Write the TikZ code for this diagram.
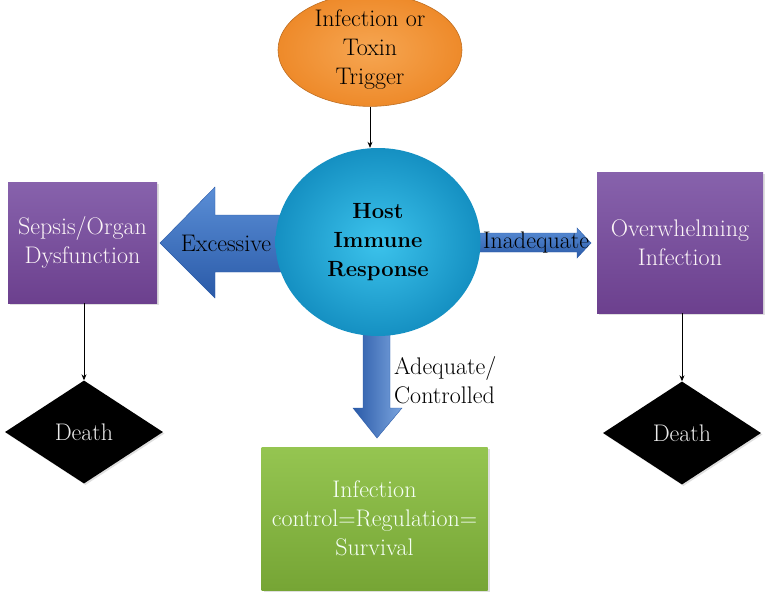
\documentclass[tikz,border=0pt]{standalone}
\usetikzlibrary{shapes.geometric,arrows.meta,shadows}

\definecolor{trigOrange}{HTML}{EE8A2A}
\definecolor{trigOrangeL}{HTML}{F6A652}
\definecolor{hostCyan}{HTML}{1AA9DB}
\definecolor{hostCyanL}{HTML}{3CC3EC}
\definecolor{hostCyanD}{HTML}{1590C2}
\definecolor{boxPurple}{HTML}{7A4E9E}
\definecolor{boxPurpleL}{HTML}{8762AC}
\definecolor{boxPurpleD}{HTML}{6C408E}
\definecolor{okGreen}{HTML}{86B943}
\definecolor{okGreenL}{HTML}{95C551}
\definecolor{okGreenD}{HTML}{76A535}
\definecolor{flowBlue}{HTML}{3C72C4}
\definecolor{flowBlueL}{HTML}{5A8ED6}
\definecolor{flowBlueD}{HTML}{2A5AA8}

\tikzset{
  txt/.style={font=\rmfamily\fontsize{24}{29}\selectfont, align=center},
  trigger/.style={ellipse, txt, minimum width=184pt, minimum height=96pt,
    inner sep=0pt, draw=trigOrange!80!black, line width=0.6pt,
    inner color=trigOrangeL, outer color=trigOrange},
  host/.style={ellipse, txt, font=\rmfamily\fontsize{22}{29}\selectfont\bfseries,
    minimum width=205pt, minimum height=188pt, inner sep=0pt,
    inner color=hostCyanL, outer color=hostCyanD},
  outcome/.style={rectangle, txt, text=white!96!purple, inner sep=0pt,
    top color=boxPurpleL, bottom color=boxPurpleD,
    drop shadow={shadow xshift=2pt, shadow yshift=-2pt, opacity=0.25}},
  survive/.style={rectangle, txt, text=white!96!green, inner sep=0pt,
    top color=okGreenL, bottom color=okGreenD,
    drop shadow={shadow xshift=2pt, shadow yshift=-2pt, opacity=0.25}},
  fatal/.style={diamond, txt, text=white!92!black, inner sep=0pt, aspect=1.55,
    fill=black, minimum width=158pt, minimum height=103pt,
    drop shadow={shadow xshift=1.5pt, shadow yshift=-1.5pt, opacity=0.25}},
  link/.style={draw=black, line width=0.7pt, -{Stealth[length=6pt,width=5pt]}},
  blockarrow/.style={draw=flowBlueD, line width=0.4pt, line join=miter},
  arrowlabel/.style={txt, inner sep=1pt},
}

\begin{document}
\begin{tikzpicture}[x=1pt, y=-1pt]
  \useasboundingbox (0,0) rectangle (765,592);

  % block arrows leaving the immune response
  \path[blockarrow, top color=flowBlueL, bottom color=flowBlueD]
    (290,215) -- (215,215) -- (215,187) -- (160,243) -- (215,298)
    -- (215,272) -- (290,272) -- cycle;
  \path[blockarrow, top color=flowBlueL, bottom color=flowBlueD]
    (470,233) -- (577,233) -- (577,228) -- (591,243) -- (577,258)
    -- (577,252) -- (470,252) -- cycle;
  \path[blockarrow, left color=flowBlueD, right color=flowBlueL!80!white]
    (363,320) -- (363,408) -- (353,408) -- (377,438) -- (402,408)
    -- (390,408) -- (390,320) -- cycle;

  % main nodes
  \node[trigger] (trig) at (370,50) {Infection or\\Toxin\\Trigger};
  \node[host] (host) at (378,242) {Host\\Immune\\Response};

  \node[outcome, minimum width=149pt, minimum height=121pt]
    (sepsis) at (82.5,242.5) {Sepsis/Organ\\Dysfunction};
  \node[outcome, minimum width=166pt, minimum height=141pt]
    (overw) at (680,242.5) {Overwhelming\\Infection};
  \node[survive, minimum width=226pt, minimum height=143pt]
    (surv) at (374.5,518.5) {Infection\\control=Regulation=\\Survival};

  \node[fatal] (deathL) at (84,432) {Death};
  \node[fatal] (deathR) at (682,433) {Death};

  % labels on the block arrows
  \node[arrowlabel] (lblExc) at (226,243) {Excessive};
  \node[arrowlabel] (lblInad) at (536,243) {Inadequate};
  \node[arrowlabel, align=left, anchor=west] (lblAdq) at (393,380)
    {Adequate/\\Controlled};

  % thin connectors
  \draw[link] (trig.south) -- (trig.south |- host.north);
  \draw[link] (sepsis.south -| deathL.north) -- (deathL.north);
  \draw[link] (overw.south -| deathR.north) -- (deathR.north);
\end{tikzpicture}
\end{document}
